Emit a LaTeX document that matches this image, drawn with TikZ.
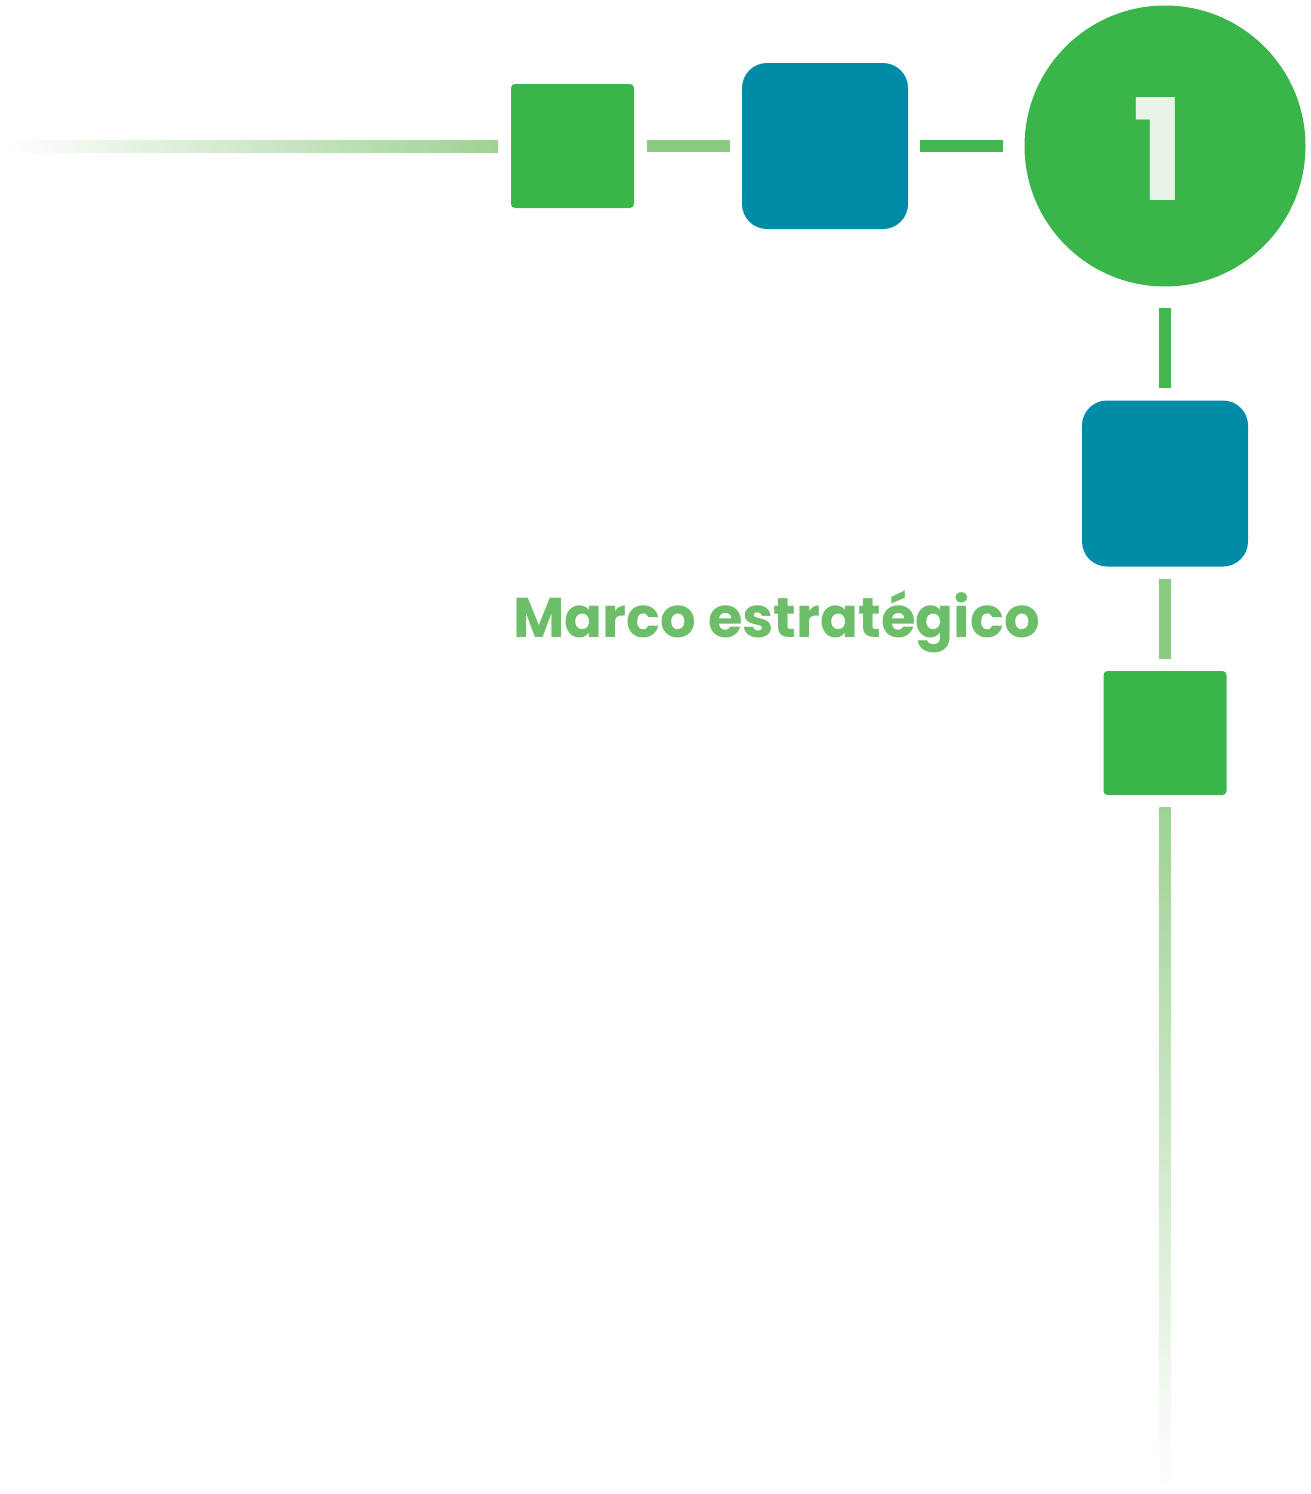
\documentclass[tikz,border=0pt]{standalone}
\usepackage{fontspec}
\usepackage{tikz}
\usetikzlibrary{calc}
\newfontfamily\markfont{Poppins}
\definecolor{leaf}{RGB}{58,181,74}
\definecolor{teal}{RGB}{0,140,166}
\definecolor{softleaf}{RGB}{108,191,104}
\definecolor{paleleaf}{RGB}{138,203,130}
\definecolor{midleaf}{RGB}{68,184,78}
\definecolor{tailleaf}{RGB}{158,210,148}
\definecolor{numwhite}{RGB}{234,244,230}
\tikzstyle{none}=[]
\tikzstyle{smallbox}=[fill=leaf, rounded corners=4pt, minimum width=123pt, minimum height=124pt, inner sep=0pt]
\tikzstyle{bigbox}=[fill=teal, rounded corners=25pt, minimum width=166pt, minimum height=166pt, inner sep=0pt]
\tikzstyle{disc}=[circle, fill=leaf, minimum size=281pt, inner sep=0pt]
\tikzstyle{link}=[line width=11.5pt]
\begin{document}
\begin{tikzpicture}[x=1pt, y=-1pt]
                \useasboundingbox (0, 0) rectangle (1311, 1494);
                \node [style=smallbox] (0) at (572.5, 146) {};
                \node [style=bigbox] (1) at (825, 146) {};
                \node [style=disc] (2) at (1165, 146) {};
                \node [style=bigbox] (3) at (1165, 483.5) {};
                \node [style=smallbox] (4) at (1165, 733) {};
                \node [anchor=base, text=numwhite, font=\markfont\bfseries\fontsize{141}{145}\selectfont] (5) at (1159, 200) {1};
                \node [anchor=base, text=softleaf, font=\markfont\bfseries\fontsize{56}{60}\selectfont] (6) at (776.5, 637) {Marco estratégico};
                \coordinate (7) at (4, 146);
                \coordinate (8) at (1165, 1492);
                \draw [style=link, paleleaf, shorten <=13pt, shorten >=12pt] (0.east) to (1.west);
                \draw [style=link, midleaf, shorten <=12pt, shorten >=21pt] (1.east) to (2.west);
                \draw [style=link, midleaf, shorten <=21pt, shorten >=12pt] (2.south) to (3.north);
                \draw [style=link, paleleaf, shorten <=12pt, shorten >=12pt] (3.south) to (4.north);
                \shade [left color=white, right color=tailleaf] ($(7)+(0,-6)$) rectangle ($(0.west)+(-13,6)$);
                \shade [top color=tailleaf, bottom color=white] ($(4.south)+(-5.75,12)$) rectangle ($(8)+(5.75,0)$);
\end{tikzpicture}
\end{document}
